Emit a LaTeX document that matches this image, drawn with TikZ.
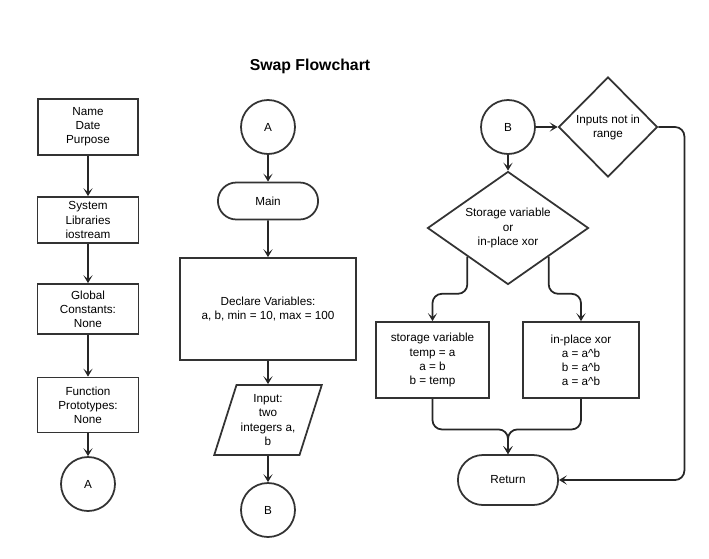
\documentclass[tikz,border=0pt]{standalone}
\usepackage{fontspec}
\setmainfont{Liberation Sans}
\usetikzlibrary{shapes.geometric, shapes.misc, arrows.meta}
\definecolor{edge}{HTML}{333333}
\tikzset{
    box/.style={draw=edge, line width=1.5pt, rectangle, minimum width=3.03cm, align=center, inner sep=2pt},
    term/.style={draw=edge, line width=1.5pt, rounded rectangle, minimum width=3.24cm, align=center},
    conn/.style={draw=edge, line width=1.5pt, circle, minimum size=1.62cm},
    dec/.style={draw=edge, line width=1.5pt, diamond, align=center, inner sep=0pt},
    io/.style={draw=edge, line width=1.5pt, trapezium, trapezium left angle=69, trapezium right angle=111,
        trapezium stretches=true, minimum width=3.24cm, minimum height=2.1cm, align=center, inner sep=0pt},
    flow/.style={draw=black!85, line width=1.5pt, -{Stealth[length=2.4mm,width=2.8mm,inset=1.2mm]}}
}

\begin{document}
\begin{tikzpicture}[x=0.03cm, y=-0.03cm]
    \useasboundingbox (0,0) rectangle (709,558);

    \node[font=\bfseries\fontsize{13.5}{16}\selectfont] (title) at (310,66) {Swap Flowchart};

    % left column
    \node[box, minimum width=3cm, minimum height=1.68cm] (info) at (88,127) {Name\\Date\\Purpose};
    \node[box, minimum height=1.38cm] (libs) at (88,220) {System\\Libraries\\iostream};
    \node[box, minimum height=1.5cm] (consts) at (88,309) {Global\\Constants:\\None};
    \node[box, minimum height=1.65cm] (protos) at (88,405) {Function\\Prototypes:\\None};
    \node[conn] (aout) at (88,484) {A};
    \draw[flow] (info) -- (libs);
    \draw[flow] (libs) -- (consts);
    \draw[flow] (consts) -- (protos);
    \draw[flow] (protos) -- (aout);

    % middle column
    \node[conn] (ain) at (268,127) {A};
    \node[term, minimum height=1.11cm] (main) at (268,201) {Main};
    \node[box, minimum width=5.28cm, minimum height=3.06cm] (decl) at (268,309) {Declare Variables:\\a, b, min = 10, max = 100};
    \node[io] (input) at (268,420) {Input:\\two\\integers a,\\b};
    \node[conn] (bout) at (268,510) {B};
    \draw[flow] (ain) -- (main);
    \draw[flow] (main) -- (decl);
    \draw[flow] (decl) -- (input);
    \draw[flow] (input) -- (bout);

    % right column
    \node[conn] (bin) at (508,127) {B};
    \node[dec, aspect=1, minimum width=2.97cm, minimum height=3cm] (range) at (608,127) {Inputs not in\\range};
    \node[dec, aspect=1.5, minimum width=4.83cm, minimum height=3.39cm] (choice) at (508,228) {Storage variable\\or\\in-place xor};
    \node[box, minimum width=3.39cm, minimum height=2.28cm] (store) at (432.5,360) {storage variable\\temp = a\\a = b\\b = temp};
    \node[box, minimum width=3.48cm, minimum height=2.28cm] (xor) at (581,360) {in-place xor\\a = a\^{}b\\b = a\^{}b\\a = a\^{}b};
    \node[term, minimum height=1.5cm] (ret) at (508,480) {Return};
    \draw[flow] (bin) -- (range);
    \draw[flow] (bin) -- (choice);
    \draw[flow, rounded corners=8] (choice.south west) |- ([yshift=0.82cm]store.north) -- (store.north);
    \draw[flow, rounded corners=8] (choice.south east) |- ([yshift=0.82cm]xor.north) -- (xor.north);
    \draw[flow, rounded corners=8] (store.south) |- ([yshift=0.74cm]ret.north) -- (ret.north);
    \draw[flow, rounded corners=8] (xor.south) |- ([yshift=0.74cm]ret.north) -- (ret.north);
    \draw[flow, rounded corners=8] (range.east) -- ++(26,0) |- (ret.east);
\end{tikzpicture}
\end{document}
